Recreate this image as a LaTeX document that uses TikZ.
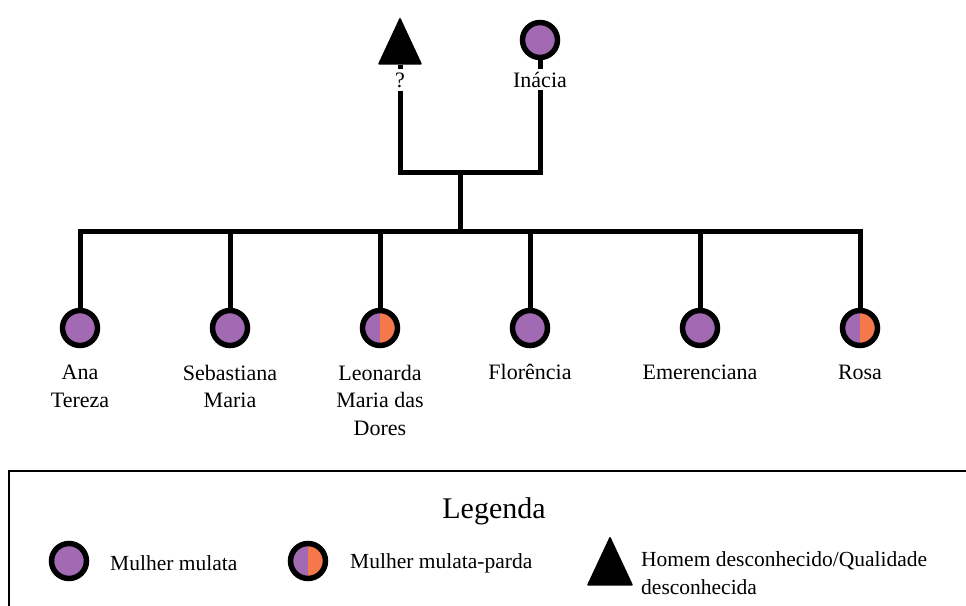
\documentclass[tikz,border=0pt]{standalone}
\usepackage{fontspec}
\setmainfont{Liberation Serif}
\usetikzlibrary{shapes.geometric}
\definecolor{mulata}{RGB}{162,106,179}
\definecolor{parda}{RGB}{245,120,74}

\begin{document}
\begin{tikzpicture} [x=1pt, y=-1pt,
	linha/.style = {line width=5pt},
	mulher/.style = {circle, draw, line width=5.5pt, fill=mulata, minimum size=35pt, inner sep=0pt},
	mparda/.style = {mulher, path picture={\fill[parda] (path picture bounding box.south) rectangle (path picture bounding box.north east);}},
	homem/.style = {isosceles triangle, isosceles triangle apex angle=50, shape border rotate=90, isosceles triangle stretches, minimum width=42pt, minimum height=45pt, fill, draw, line width=1.5pt, line join=round, inner sep=0pt},
	rotulo/.style = {font=\fontsize{22}{27.5}\selectfont, align=center, inner sep=3pt},
	legtexto/.style = {font=\fontsize{21.5}{28}\selectfont, align=left, anchor=west, inner sep=0pt}]
	\useasboundingbox (0,0) rectangle (966,605);
	%\draw [thin, help lines] (0,0) grid[step=50] (966,605);

	% pais
	\node[homem, anchor=apex] (pai) at (400,17) {};
	\node[mulher] (inacia) at (540,40) {};
	\node[rotulo, anchor=base] (l_pai) at (400,87) {?};
	\node[rotulo, anchor=base] (l_inacia) at (540,87) {Inácia};
	\draw[linha] (pai.south) -- (l_pai.north);
	\draw[linha] (inacia.south) -- (l_inacia.north);
	\coordinate (uniao) at (460,172);
	\coordinate (barra) at (460,231);
	\draw[linha] (l_pai.south) |- (uniao) -| (l_inacia.south);
	\draw[linha] (uniao) -- (barra);

	% filhas
	\node[mulher] (ana) at (80,328) {};
	\node[mulher] (sebastiana) at (230,328) {};
	\node[mparda] (leonarda) at (380,328) {};
	\node[mulher] (florencia) at (530,328) {};
	\node[mulher] (emerenciana) at (700,328) {};
	\node[mparda] (rosa) at (860,328) {};
	\draw[linha] (ana.north) |- (barra) -| (rosa.north);
	\draw[linha] (sebastiana.north) -- (sebastiana.north |- barra);
	\draw[linha] (leonarda.north) -- (leonarda.north |- barra);
	\draw[linha] (florencia.north) -- (florencia.north |- barra);
	\draw[linha] (emerenciana.north) -- (emerenciana.north |- barra);
	\node[rotulo, anchor=north] (l_ana) at (80,362) {Ana\\Tereza};
	\node[rotulo, anchor=north] (l_sebastiana) at (230,362) {Sebastiana\\Maria};
	\node[rotulo, anchor=north] (l_leonarda) at (380,362) {Leonarda\\Maria das\\Dores};
	\node[rotulo, anchor=north] (l_florencia) at (530,361) {Florência};
	\node[rotulo, anchor=north] (l_emerenciana) at (700,362) {Emerenciana};
	\node[rotulo, anchor=north] (l_rosa) at (860,362) {Rosa};

	% legenda
	\draw[line width=1.5pt] (9,471) rectangle (985,625);
	\node[font=\fontsize{30}{36}\selectfont] (legenda) at (494,511) {Legenda};
	\node[mulher] (leg_mulata) at (69,561) {};
	\node[legtexto] (t_mulata) at (110,563) {Mulher mulata};
	\node[mparda] (leg_parda) at (308,561) {};
	\node[legtexto] (t_parda) at (350,563) {Mulher mulata-parda};
	\node[homem, anchor=apex, minimum height=47pt, minimum width=44pt] (leg_homem) at (610,536) {};
	\node[legtexto] (t_homem) at (641,573) {Homem desconhecido/Qualidade\\desconhecida};
\end{tikzpicture}
\end{document}
